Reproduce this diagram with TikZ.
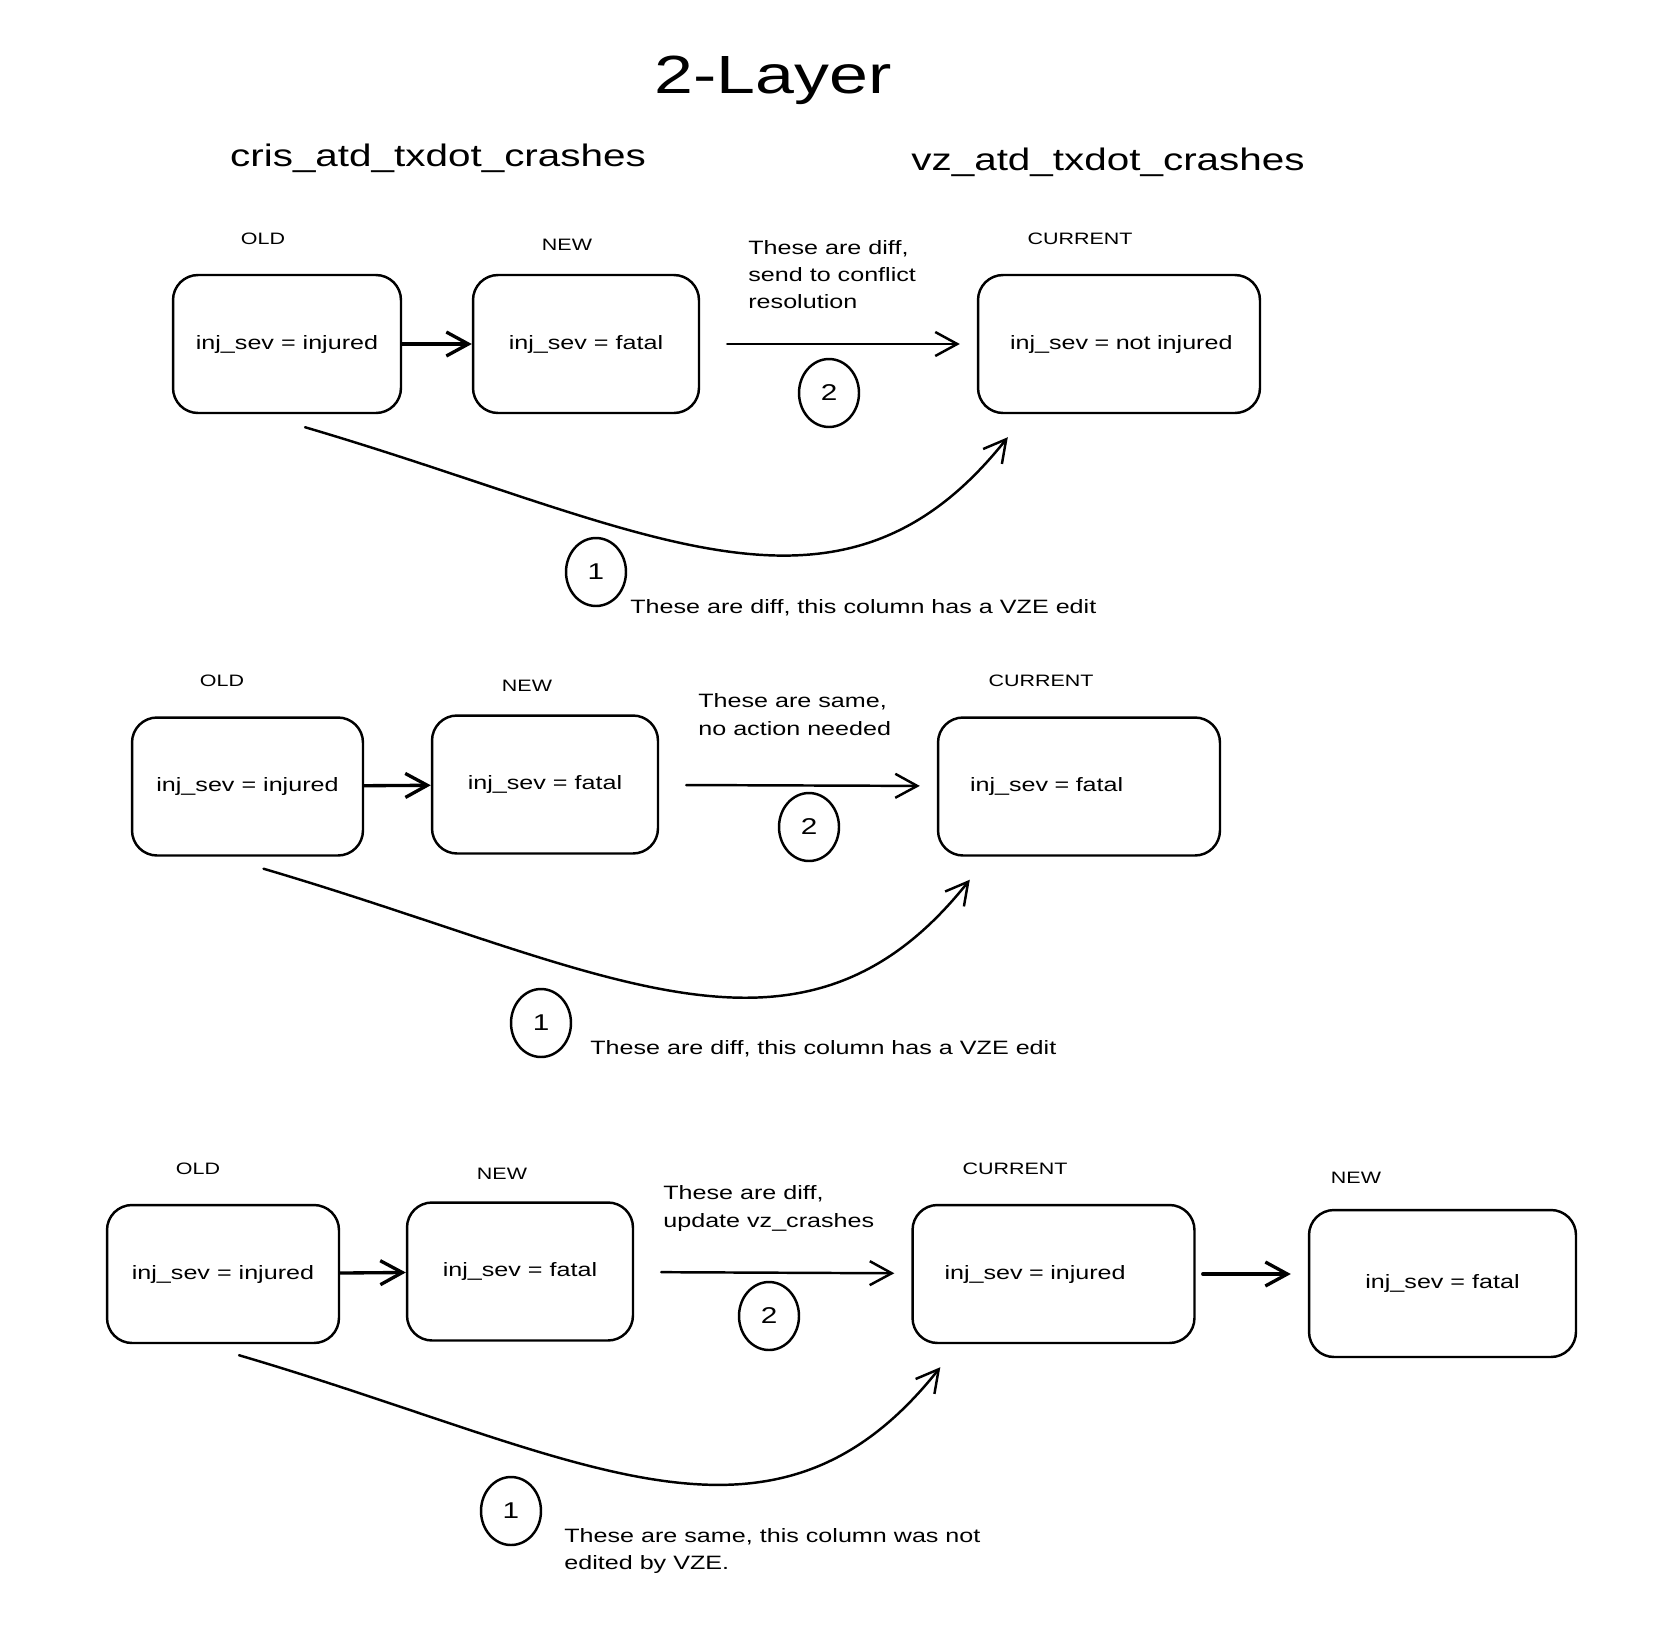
\documentclass[tikz,border=0pt]{standalone}
\usepackage{fontspec}
\setmainfont{Liberation Sans}[FakeStretch=1.3]
\usetikzlibrary{arrows.meta}
\usetikzlibrary{shapes.geometric}

\begin{document}
\begin{tikzpicture}
[x=0.02cm,y=-0.02cm,line cap=round,line join=round,%
  box/.style={draw,line width=1.4pt,rounded corners=0.5cm,inner sep=0pt,%
    minimum width=4.56cm,minimum height=2.76cm,font=\fontsize{11}{13}\selectfont},%
  curbox/.style={box,align=left,text width=4.36cm,inner xsep=0.64cm},%
  tag/.style={font=\fontsize{9.4}{11}\selectfont},%
  note/.style={anchor=west,align=left,inner sep=0pt,font=\fontsize{11}{15.5}\selectfont},%
  num/.style={draw,ellipse,line width=1.4pt,minimum width=1.2cm,minimum height=1.36cm,%
    inner sep=0pt,font=\fontsize{13}{15}\selectfont},%
  link/.style={-{Straight Barb[length=0.44cm,width=0.48cm]},line width=1.9pt},%
  jump/.style={-{Straight Barb[length=0.44cm,width=0.48cm]},line width=1.4pt,%
    shorten <=0.54cm,shorten >=0.34cm},%
  sweep/.style={-{Straight Barb[length=0.44cm,width=0.48cm]},line width=1.4pt}]
\useasboundingbox (0,0) rectangle (1660,1633);
\node[font=\fontsize{30.6}{36}\selectfont] (title) at (773,80) {2-Layer};
\node[font=\fontsize{17.7}{21}\selectfont] (cris) at (438,158) {cris\_atd\_txdot\_crashes};
\node[font=\fontsize{17.7}{21}\selectfont] (vz) at (1108,162) {vz\_atd\_txdot\_crashes};

% row 1
\node[box] (o1) at (287,344) {inj\_sev = injured};
\node[box,minimum width=4.52cm] (n1) at (586,344) {inj\_sev = fatal};
\node[curbox] (c1) at (1119,344) {\mbox{inj\_sev = not injured}};
\node[tag] (ot1) at (263,239) {OLD};
\node[tag] (nt1) at (567,245) {NEW};
\node[tag] (ct1) at (1080,239) {CURRENT};
\node[note] (w1) at (748,274.5) {These are diff,\\send to conflict\\resolution};
\node[num] (two1) at (829,393) {2};
\node[num] (one1) at (596,572) {1};
\node[note] (d1) at (630,608) {These are diff, this column has a VZE edit};
\draw[link] (o1) -- (n1);
\draw[jump] (n1) -- (c1);
\draw[sweep] ([shift={(18,13)}]o1.south) .. controls +(340,100) and +(-170,214) .. ([shift={(31,23)}]c1.south west);

% row 2
\node[box,minimum width=4.62cm] (o2) at (247.5,786.5) {inj\_sev = injured};
\node[box,minimum width=4.52cm] (n2) at (545,784.5) {inj\_sev = fatal};
\node[curbox] (c2) at (1079,786.5) {inj\_sev = fatal};
\node[tag] (ot2) at (222,681) {OLD};
\node[tag] (nt2) at (527,686) {NEW};
\node[tag] (ct2) at (1041,681) {CURRENT};
\node[note] (w2) at (698,714.5) {These are same,\\no action needed};
\node[num] (two2) at (809,827) {2};
\node[num] (one2) at (541,1023) {1};
\node[note] (d2) at (590,1049) {These are diff, this column has a VZE edit};
\draw[link] (o2) -- (n2);
\draw[jump] (n2) -- (c2);
\draw[sweep] ([shift={(16,12)}]o2.south) .. controls +(340,100) and +(-170,214) .. ([shift={(33,23)}]c2.south west);

% row 3
\node[box,minimum width=4.64cm] (o3) at (223,1274) {inj\_sev = injured};
\node[box,minimum width=4.52cm] (n3) at (520,1271.5) {inj\_sev = fatal};
\node[curbox] (c3) at (1053.5,1274) {inj\_sev = injured};
\node[box,minimum width=5.34cm,minimum height=2.94cm] (m3) at (1442.5,1283.5) {inj\_sev = fatal};
\node[tag] (ot3) at (198,1169) {OLD};
\node[tag] (nt3) at (502,1174) {NEW};
\node[tag] (ct3) at (1015,1169) {CURRENT};
\node[tag] (mt3) at (1356,1178) {NEW};
\node[note] (w3) at (663,1208.5) {These are diff,\\update vz\_crashes};
\node[num] (two3) at (769,1316) {2};
\node[num] (one3) at (511,1511) {1};
\node[note] (d3) at (564,1551) {These are same, this column was not\\edited by VZE.};
\draw[link] (o3) -- (n3);
\draw[jump] (n3) -- (c3);
\draw[link,shorten <=4pt,shorten >=0.34cm] (c3.east) -- (c3.east -| m3.west);
\draw[sweep] ([shift={(16,11)}]o3.south) .. controls +(340,100) and +(-170,214) .. ([shift={(29,23)}]c3.south west);
\end{tikzpicture}
\end{document}
